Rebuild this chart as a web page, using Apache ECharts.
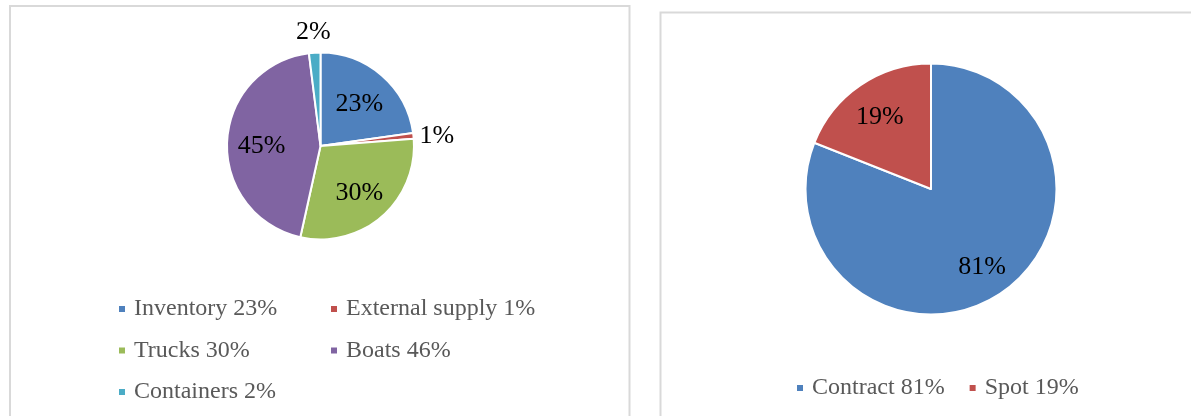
<!DOCTYPE html>
<html>
<head>
<meta charset="utf-8">
<script src="https://cdn.jsdelivr.net/npm/echarts@6/dist/echarts.min.js"></script>
<style>
  html, body { margin: 0; padding: 0; background: #fff; }
  #chart { width: 1191px; height: 416px; }
</style>
</head>
<body>
<div id="chart"></div>
<script>
// Supply sources (left pie)
const sourceNames = ['Inventory 23%', 'External supply 1%', 'Trucks 30%', 'Boats 46%', 'Containers 2%'];
const sourceValues = [23, 1, 30, 45, 2];
const sourceColors = ['#4F81BD', '#C0504D', '#9BBB59', '#8064A2', '#4BACC6'];

// Pricing basis (right pie)
const pricingNames = ['Contract 81%', 'Spot 19%'];
const pricingValues = [81, 19];
const pricingColors = ['#4F81BD', '#C0504D'];

// Legend columns for the left pie
const sourceLegendCol1 = ['Inventory 23%', 'Trucks 30%', 'Containers 2%'];
const sourceLegendCol2 = ['External supply 1%', 'Boats 46%'];

// Slices under this share get their label outside the pie
const SMALL_SLICE = 5;

const FONT = 'Liberation Serif';
const labelText = { color: '#000', fontFamily: FONT, fontSize: 26, offset: [0, 3] };
const legendText = { color: '#595959', fontFamily: FONT, fontSize: 24, lineHeight: 24, padding: [0, 0, 0, 3] };

function sliceData(names, values, colors) {
  return names.map((n, i) => ({ name: n, value: values[i], itemStyle: { color: colors[i] } }));
}

// Transparent copy of a pie used only to place the value labels
function labelData(names, values, pick) {
  return names.map((n, i) => ({
    name: n,
    value: values[i],
    label: { show: pick(values[i]) }
  }));
}

function labelSeries(center, radius, data) {
  return {
    type: 'pie',
    center: center,
    radius: radius,
    silent: true,
    animation: false,
    avoidLabelOverlap: false,
    itemStyle: { color: 'rgba(0,0,0,0)', borderWidth: 0 },
    label: Object.assign({ position: 'inside', formatter: '{c}%' }, labelText),
    labelLine: { show: false },
    emphasis: { disabled: true },
    data: data
  };
}

const leftCenter = [320.5, 146];
const leftR = 93.5;
const rightCenter = [931, 189];
const rightR = 125.5;

const legendBase = {
  icon: 'rect',
  itemWidth: 8,
  itemHeight: 8,
  padding: 0,
  selectedMode: false,
  textStyle: legendText
};

const option = {
  animation: false,
  backgroundColor: '#fff',
  graphic: [
    {
      type: 'rect',
      shape: { x: 10, y: 6, width: 619.5, height: 430 },
      style: { fill: 'none', stroke: '#D9D9D9', lineWidth: 2 },
      silent: true
    },
    {
      type: 'rect',
      shape: { x: 660.5, y: 12.5, width: 560, height: 430 },
      style: { fill: 'none', stroke: '#D9D9D9', lineWidth: 2 },
      silent: true
    }
  ],
  legend: [
    Object.assign({}, legendBase, {
      orient: 'vertical', left: 117, top: 297, itemGap: 17.5, data: sourceLegendCol1
    }),
    Object.assign({}, legendBase, {
      orient: 'vertical', left: 329, top: 297, itemGap: 17.5, data: sourceLegendCol2
    }),
    Object.assign({}, legendBase, {
      orient: 'horizontal', left: 795, top: 376, itemGap: 23, data: pricingNames
    })
  ],
  series: [
    {
      type: 'pie',
      center: leftCenter,
      radius: [0, leftR],
      startAngle: 90,
      clockwise: true,
      avoidLabelOverlap: false,
      itemStyle: { borderColor: '#fff', borderWidth: 2 },
      label: { show: false },
      labelLine: { show: false },
      emphasis: { disabled: true },
      data: sliceData(sourceNames, sourceValues, sourceColors)
    },
    {
      type: 'pie',
      center: rightCenter,
      radius: [0, rightR],
      startAngle: 90,
      clockwise: true,
      avoidLabelOverlap: false,
      itemStyle: { borderColor: '#fff', borderWidth: 2 },
      label: { show: false },
      labelLine: { show: false },
      emphasis: { disabled: true },
      data: sliceData(pricingNames, pricingValues, pricingColors)
    },
    // labels sitting inside the larger slices
    labelSeries(leftCenter, [0, leftR * 1.2],
      labelData(sourceNames, sourceValues, v => v >= SMALL_SLICE)),
    // labels just outside the thin slices
    labelSeries(leftCenter, [leftR, leftR * 1.44],
      labelData(sourceNames, sourceValues, v => v < SMALL_SLICE)),
    labelSeries(rightCenter, [0, rightR * 1.4],
      labelData(pricingNames, pricingValues, () => true))
  ]
};

const chart = echarts.init(document.getElementById('chart'), null, { renderer: 'canvas' });
chart.setOption(option);
</script>
</body>
</html>
